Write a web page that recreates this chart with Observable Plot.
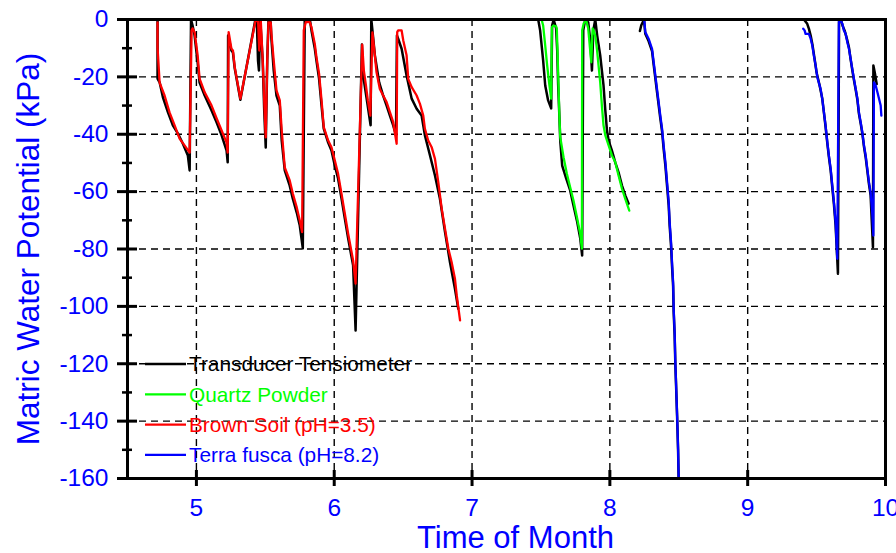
<!DOCTYPE html>
<html><head><meta charset="utf-8">
<script src="https://cdn.jsdelivr.net/npm/d3@7"></script>
<script src="https://cdn.jsdelivr.net/npm/@observablehq/plot@0.6"></script>
<style>body{margin:0;background:#fff;} svg{display:block;}</style>
</head><body><div id="chart"></div>
<script>
// ---- tick labels ----
const monthTicks = [5, 6, 7, 8, 9, 10];
const kpaTicks = [0, -20, -40, -60, -80, -100, -120, -140, -160];
const kpaMinorTicks = [-10, -30, -50, -70, -90, -110, -130, -150];
const seriesNames = ["Transducer Tensiometer", "Quartz Powder", "Brown Soil (pH=3.5)", "Terra fusca (pH=8.2)"];
const seriesColors = ["#000000", "#00ff00", "#ff0000", "#0000ff"];
const xLabel = "Time of Month";
const yLabel = "Matric Water Potential (kPa)";

// ---- data: [month, kPa] ----
const tensiometerA = [[4.718,0],[4.718,-20.6],[4.733,-21.9],[4.757,-27.1],[4.793,-32.3],[4.829,-36.9],[4.866,-39.8],[4.902,-43.3],[4.938,-47.4],[4.951,-52.6],
 [4.961,0],[4.972,-2.1],[4.987,-5.6],[5.009,-15.0],[5.023,-22.0],[5.060,-26.5],[5.110,-31.7],[5.147,-35.9],[5.183,-40.4],[5.219,-45.7],[5.227,-49.8],
 [5.230,-5.6],[5.254,-10.8],[5.265,-11.5],[5.278,-17.0],[5.319,-28.0],[5.428,0],
 [5.438,0],[5.447,-14.3],[5.454,-17.8],[5.463,0],[5.481,-14.3],[5.492,-31.7],[5.503,-44.6],[5.514,-14.3],[5.523,0],[5.539,-1.0],
 [5.544,-6.6],[5.561,-17.8],[5.581,-26.5],[5.605,-30.0],[5.619,-42.2],[5.641,-52.6],[5.677,-57.9],[5.699,-62.4],[5.728,-67.3],[5.750,-71.8],[5.772,-79.8],
 [5.786,0],[5.823,0],[5.835,-3.8],[5.859,-10.1],[5.871,-14.3],[5.890,-20.6],[5.908,-30.0],[5.924,-38.0],[5.956,-42.9],[5.980,-45.7],[6.004,-50.9],[6.028,-55.4],[6.053,-62.4],[6.077,-69.4],[6.101,-76.3],[6.137,-85.7],[6.155,-108.4],
 [6.201,-8.7],[6.210,-19.5],[6.239,-28.8],[6.264,-36.9],[6.269,0],[6.281,-5.6],[6.295,-12.5],[6.326,-21.9],[6.355,-26.5],[6.380,-30.0],[6.404,-33.5],[6.428,-36.9],[6.448,-40.4],
 [6.455,-5.6],[6.464,-6.7],[6.489,-10.2],[6.525,-19.5],[6.562,-27.6],[6.598,-31.1],[6.634,-33.5],[6.658,-40.4],[6.695,-47.4],[6.731,-54.4],[6.767,-62.5],[6.804,-74.1],[6.840,-84.6],[6.876,-93.9],[6.900,-100.8]];
const tensiometerB = [[7.480,0],[7.494,-3.8],[7.516,-14.3],[7.531,-23.0],[7.552,-28.2],[7.574,-31.0],
 [7.581,-2.1],[7.592,0],[7.610,-3.1],[7.618,-10.8],[7.625,-23.0],[7.634,-34.1],[7.640,-42.2],[7.654,-50.9],[7.683,-55.4],[7.712,-59.6],[7.736,-64.8],[7.761,-70.1],[7.785,-76.3],[7.799,-82.3],
 [7.807,-3.8],[7.821,0],[7.843,-1.0],[7.858,-7.3],[7.870,-17.8],[7.880,-3.8],[7.894,0],[7.908,-5.6],[7.930,-12.5],[7.954,-23.0],[7.967,-31.7],[7.979,-38.7],[7.991,-42.2],[8.015,-45.7],[8.039,-49.8],[8.063,-53.3],[8.088,-57.9],[8.112,-61.3],[8.136,-64.2]];
const tensiometerC = [[8.218,-4.0],[8.228,-2.0],[8.240,-0.8],[8.248,0],[8.257,-5.0],[8.281,-7.5],[8.306,-11.0],[8.318,-15.8],[8.330,-20.5],[8.342,-25.2],[8.354,-29.8],[8.366,-34.5],[8.379,-39.1],[8.390,-45.0],[8.403,-51.0],[8.415,-58.0],[8.427,-65.0],[8.434,-72.0],[8.444,-79.0],[8.451,-86.0],[8.459,-93.0],[8.463,-102.0],[8.470,-110.0],[8.475,-120.0],[8.480,-127.0],[8.488,-138.5],[8.495,-150.0],[8.499,-160]];
const tensiometerD = [[9.408,0],[9.432,-1.5],[9.444,-3.2],[9.457,-5.6],[9.471,-9.1],[9.485,-13.6],[9.500,-18.5],[9.522,-23.0],[9.541,-27.5],[9.553,-32.4],[9.565,-37.3],[9.578,-43.2],[9.589,-47.8],[9.602,-52.6],[9.614,-58.6],[9.626,-64.5],[9.638,-71.8],[9.655,-88.6],
 [9.663,0],[9.677,0],[9.688,-2.1],[9.703,-3.8],[9.723,-7.3],[9.735,-9.8],[9.747,-13.9],[9.759,-17.6],[9.771,-21.1],[9.784,-24.6],[9.796,-28.0],[9.807,-32.8],[9.820,-36.3],[9.832,-39.8],[9.844,-44.4],[9.856,-48.0],[9.868,-52.7],[9.880,-57.4],[9.892,-61.3],[9.909,-79.4],
 [9.912,-16.0],[9.922,-18.5],[9.936,-22.5]];

const quartzPowder = [[7.506,-0.3],[7.516,-2.1],[7.531,-9.1],[7.545,-16.0],[7.559,-22.0],[7.574,-27.6],
 [7.579,-2.7],[7.591,-2.1],[7.610,-2.4],[7.615,-3.2],[7.620,-10.8],[7.627,-22.4],[7.634,-34.1],[7.640,-41.0],[7.664,-48.0],[7.688,-53.8],[7.712,-58.5],[7.736,-63.1],[7.761,-68.9],[7.785,-74.7],[7.797,-79.9],
 [7.799,-3.8],[7.810,-1.4],[7.828,-0.3],[7.843,-3.1],[7.854,-9.1],[7.865,-14.9],[7.875,-3.1],[7.882,-3.8],[7.894,-5.6],[7.906,-10.2],[7.930,-21.9],[7.942,-30.0],[7.954,-36.9],[7.967,-40.4],[7.991,-43.9],[8.015,-47.4],[8.039,-49.7],[8.063,-54.4],[8.088,-59.0],[8.112,-62.5],[8.141,-66.6]];

const brownSoil = [[4.718,-1.0],[4.718,-9.8],[4.733,-22.0],[4.769,-26.5],[4.805,-32.4],[4.842,-36.9],[4.878,-41.5],[4.914,-43.9],[4.951,-46.4],
 [4.965,-3.8],[4.972,-3.1],[4.987,-4.5],[5.009,-12.5],[5.023,-20.6],[5.060,-25.4],[5.110,-30.0],[5.147,-34.5],[5.183,-38.7],[5.219,-42.9],[5.227,-46.4],
 [5.234,-4.4],[5.254,-10.2],[5.265,-10.8],[5.278,-16.6],[5.319,-27.6],[5.428,-0.6],
 [5.447,-0.2],[5.456,-10.8],[5.467,-0.3],[5.481,-14.3],[5.492,-28.2],[5.503,-41.1],[5.514,-14.3],[5.523,-1.0],[5.539,-1.0],
 [5.544,-4.9],[5.561,-14.3],[5.581,-24.7],[5.605,-28.2],[5.619,-38.7],[5.641,-51.6],[5.677,-56.1],[5.699,-60.6],[5.728,-65.5],[5.750,-70.1],[5.767,-74.1],
 [5.779,-3.8],[5.794,-0.9],[5.823,-0.9],[5.835,-2.7],[5.859,-8.5],[5.871,-13.1],[5.890,-18.9],[5.908,-28.2],[5.924,-37.5],[5.956,-42.2],[5.980,-44.5],[6.004,-49.1],[6.028,-53.8],[6.053,-60.8],[6.077,-67.7],[6.101,-74.7],[6.137,-84.0],[6.155,-92.1],
 [6.203,-8.8],[6.215,-17.8],[6.230,-23.0],[6.244,-28.2],[6.262,-33.5],[6.277,-4.5],[6.290,-10.2],[6.307,-18.4],[6.331,-24.2],[6.355,-26.5],[6.380,-28.8],[6.404,-32.3],[6.428,-35.8],[6.453,-43.3],
 [6.457,-4.4],[6.464,-3.8],[6.489,-3.8],[6.501,-7.3],[6.525,-12.5],[6.537,-20.7],[6.562,-23.6],[6.598,-26.5],[6.622,-29.4],[6.646,-33.5],[6.658,-38.1],[6.682,-42.2],[6.707,-44.5],[6.731,-48.6],[6.755,-56.7],[6.780,-66.0],[6.804,-73.0],[6.828,-79.9],[6.852,-84.6],[6.876,-90.4],[6.889,-96.2],[6.913,-104.9]];

const terraFuscaA = [[8.250,-0.3],[8.257,-4.4],[8.281,-6.7],[8.306,-10.2],[8.318,-14.9],[8.330,-19.5],[8.342,-24.2],[8.354,-28.8],[8.366,-33.5],[8.379,-38.1],[8.390,-43.9],[8.403,-49.7],[8.415,-56.7],[8.427,-63.7],[8.434,-70.7],[8.444,-77.6],[8.451,-84.6],[8.459,-91.6],[8.463,-100.8],[8.470,-109.0],[8.475,-119.4],[8.480,-126.4],[8.488,-138.0],[8.495,-149.6],[8.499,-160]];
const terraFuscaB = [[9.403,-3.2],[9.413,-3.8],[9.420,-5.0],[9.444,-5.0],[9.457,-6.7],[9.469,-9.1],[9.480,-12.5],[9.493,-16.0],[9.505,-20.1],[9.529,-24.2],[9.541,-27.6],[9.553,-32.3],[9.565,-36.9],[9.578,-42.8],[9.589,-47.4],[9.602,-52.0],[9.614,-57.9],[9.626,-63.7],[9.638,-70.7],[9.650,-83.4],
 [9.662,-0.9],[9.674,-0.3],[9.687,-1.5],[9.698,-3.8],[9.711,-5.0],[9.723,-7.9],[9.735,-10.2],[9.747,-13.7],[9.759,-17.2],[9.771,-20.7],[9.784,-24.2],[9.796,-27.6],[9.807,-32.3],[9.820,-35.8],[9.832,-39.3],[9.844,-43.9],[9.856,-47.4],[9.868,-52.0],[9.880,-56.7],[9.892,-60.2],[9.905,-68.3],[9.912,-75.3],
 [9.916,-21.9],[9.929,-23.0],[9.941,-25.3],[9.953,-27.6],[9.965,-30.0],[9.970,-33.5]];

// ---- build tables ----
const toRows = (pairs, seg) => pairs.map(([month, kpa]) => ({month, kpa, seg}));
const tensioRows = [...toRows(tensiometerA, "a"), ...toRows(tensiometerB, "b"), ...toRows(tensiometerC, "c"), ...toRows(tensiometerD, "d")];
const quartzRows = toRows(quartzPowder, "a");
const brownRows = toRows(brownSoil, "a");
const terraRows = [...toRows(terraFuscaA, "a"), ...toRows(terraFuscaB, "b")];

const W = 896, H = 553, mL = 127, mR = 11, mT = 19, mB = 75;
const innerW = W - mL - mR, innerH = H - mT - mB;
const blue = "#0000ff";
const font = "'Liberation Sans', Arial, Helvetica, sans-serif";
const grid = {stroke: "#000", strokeWidth: 1.4, strokeDasharray: "7,5"};

const chart = Plot.plot({
  width: W, height: H,
  marginLeft: mL, marginRight: mR, marginTop: mT, marginBottom: mB,
  x: {domain: [4.5, 10], axis: null},
  y: {domain: [-160, 0], axis: null},
  style: {fontFamily: font, background: "white"},
  marks: [
    Plot.ruleX(monthTicks.slice(0, -1), {x: d => d, ...grid}),
    Plot.ruleY(kpaTicks.slice(1, -1), {y: d => d, ...grid}),
    Plot.line(tensioRows, {x: "month", y: "kpa", z: "seg", stroke: seriesColors[0], strokeWidth: 2.5}),
    Plot.line(quartzRows, {x: "month", y: "kpa", z: "seg", stroke: seriesColors[1], strokeWidth: 2.3}),
    Plot.line(brownRows, {x: "month", y: "kpa", z: "seg", stroke: seriesColors[2], strokeWidth: 2.3}),
    Plot.line(terraRows, {x: "month", y: "kpa", z: "seg", stroke: seriesColors[3], strokeWidth: 2.3}),
    Plot.frame({stroke: "#000", strokeWidth: 3}),
    Plot.ruleX(monthTicks, {x: d => d, insetTop: innerH - 8, insetBottom: -8, stroke: "#000", strokeWidth: 3}),
    Plot.ruleY(kpaTicks, {y: d => d, insetLeft: -10, insetRight: innerW - 10, stroke: "#000", strokeWidth: 3}),
    Plot.ruleY(kpaMinorTicks, {y: d => d, insetLeft: -5, insetRight: innerW - 5, stroke: "#000", strokeWidth: 2.5}),
    Plot.text(monthTicks, {x: d => d, frameAnchor: "bottom", dy: 30, lineAnchor: "middle", text: d => String(d), fontSize: 24.5, fill: blue}),
    Plot.text(kpaTicks, {y: d => d, frameAnchor: "left", dx: -19, textAnchor: "end", lineAnchor: "middle", text: d => String(d), fontSize: 24.5, fill: blue}),
    Plot.text([xLabel], {frameAnchor: "bottom", dy: 60, dx: 9, lineAnchor: "middle", textAnchor: "middle", text: d => d, fontSize: 31, fill: blue}),
    Plot.text([yLabel], {frameAnchor: "left", dx: -99, rotate: -90, lineAnchor: "middle", textAnchor: "middle", text: d => d, fontSize: 31.5, fill: blue})
  ]
});
document.getElementById("chart").append(chart);

// ---- legend (inside the plot, lower left) ----
const svg = d3.select(chart);
const lg = svg.append("g").attr("font-family", font).attr("font-size", 20.8).attr("text-anchor", "start");
const legendX = mL + 18, legendLine = 41, legendY0 = 364, legendStep = 30.3;
seriesNames.forEach((name, i) => {
  const cy = legendY0 + i * legendStep;
  lg.append("line").attr("x1", legendX).attr("x2", legendX + legendLine).attr("y1", cy).attr("y2", cy)
    .attr("stroke", seriesColors[i]).attr("stroke-width", 2.3);
  lg.append("text").attr("x", legendX + legendLine + 3).attr("y", cy + 7.4)
    .attr("fill", seriesColors[i]).text(name);
});
</script>
</body></html>
